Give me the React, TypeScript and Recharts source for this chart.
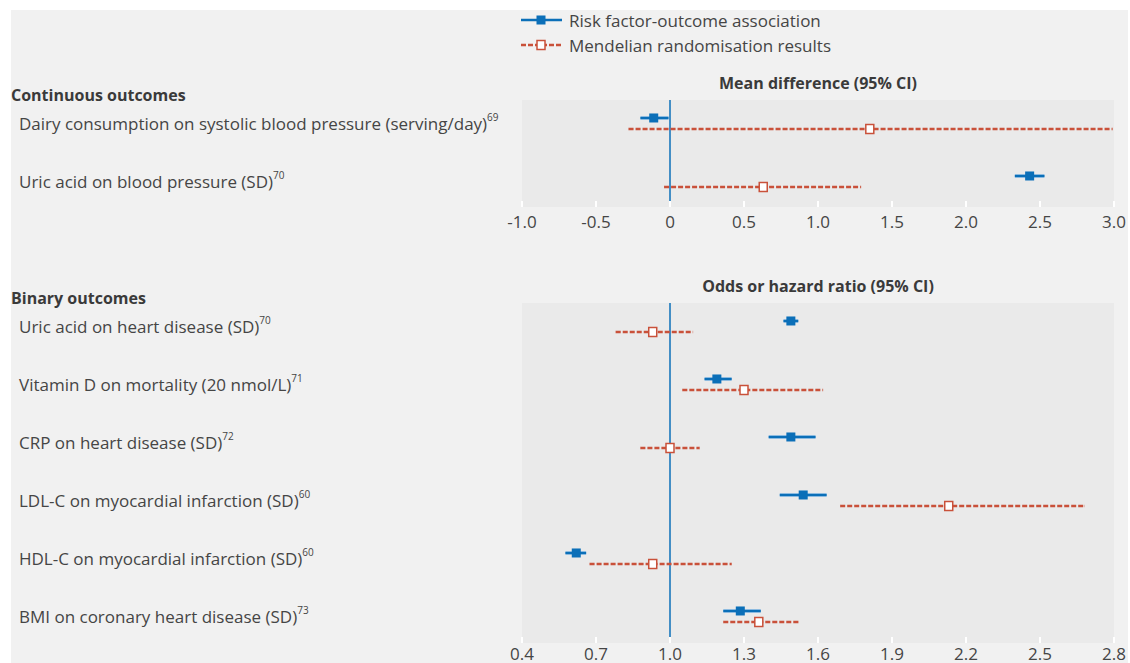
import React from 'react';
import { ScatterChart, Scatter, XAxis, YAxis, ErrorBar, ReferenceLine, CartesianGrid } from 'recharts';

// ---------- data ----------
const continuousLabels = [
  'Dairy consumption on systolic blood pressure (serving/day)',
  'Uric acid on blood pressure (SD)',
];
const continuousRefs = ['69', '70'];
const continuousObs = [-0.11, 2.43];
const continuousObsLow = [-0.2, 2.33];
const continuousObsHigh = [-0.01, 2.53];
const continuousMr = [1.35, 0.63];
const continuousMrLow = [-0.28, -0.04];
const continuousMrHigh = [2.99, 1.29];
const continuousTicks = [-1, -0.5, 0, 0.5, 1, 1.5, 2, 2.5, 3];

const binaryLabels = [
  'Uric acid on heart disease (SD)',
  'Vitamin D on mortality (20 nmol/L)',
  'CRP on heart disease (SD)',
  'LDL-C on myocardial infarction (SD)',
  'HDL-C on myocardial infarction (SD)',
  'BMI on coronary heart disease (SD)',
];
const binaryRefs = ['70', '71', '72', '60', '60', '73'];
const binaryObs = [1.49, 1.19, 1.49, 1.54, 0.62, 1.285];
const binaryObsLow = [1.46, 1.14, 1.4, 1.445, 0.576, 1.216];
const binaryObsHigh = [1.52, 1.25, 1.59, 1.635, 0.66, 1.368];
const binaryMr = [0.93, 1.3, 1.0, 2.13, 0.93, 1.36];
const binaryMrLow = [0.78, 1.05, 0.88, 1.69, 0.674, 1.216];
const binaryMrHigh = [1.093, 1.62, 1.12, 2.68, 1.25, 1.52];
const binaryTicks = [0.4, 0.7, 1.0, 1.3, 1.6, 1.9, 2.2, 2.5, 2.8];

const legendLabels = ['Risk factor-outcome association', 'Mendelian randomisation results'];
const sectionTitles = ['Continuous outcomes', 'Binary outcomes'];
const panelTitles = ['Mean difference (95% CI)', 'Odds or hazard ratio (95% CI)'];

// ---------- styles ----------
const FONT = "'Open Sans', sans-serif";
const TEXT = '#454545';
const BLUE = '#0b6fb8';
const BLUE_HALO = '#8dbbe0';
const RED = '#c9513a';
const OUTER_BG = '#f1f1f1';
const PLOT_BG = '#eaeaea';
const ROW_PX = 58;
const LABEL_SIZE = 17;

const buildRows = (vals: number[], lows: number[], highs: number[]) =>
  vals.map((v, i) => ({ row: i, value: v, err: [v - lows[i], highs[i] - v] }));

const BlueSquare = (p: any) => (
  <rect x={p.cx - 4.5} y={p.cy - 4.5} width={9} height={9} fill={BLUE} />
);
const RedSquare = (p: any) => (
  <rect x={p.cx - 4} y={p.cy - 4.5} width={8} height={9} fill="#ffffff" stroke={RED} strokeWidth={1.5} />
);

type PanelProps = {
  top: number;
  plotHeight: number;
  axisHeight: number;
  labelOffset: number;
  labels: string[];
  refs: string[];
  obs: number[];
  obsLow: number[];
  obsHigh: number[];
  mr: number[];
  mrLow: number[];
  mrHigh: number[];
  ticks: number[];
  nullValue: number;
  fmt: (v: number) => string;
};

const Panel = (props: PanelProps) => {
  const { top, plotHeight, axisHeight, labelOffset, labels, refs, ticks, nullValue, fmt } = props;
  const span = plotHeight / ROW_PX;
  const obsRows = buildRows(props.obs, props.obsLow, props.obsHigh);
  const mrRows = buildRows(props.mr, props.mrLow, props.mrHigh);
  const marginTop = 10;
  const height = marginTop + plotHeight + axisHeight;

  const LabelTick = (p: any) => {
    const i = p.payload.value;
    return (
      <text x={19} y={p.y} dominantBaseline="central" fill={TEXT} fontSize={LABEL_SIZE} fontFamily={FONT}>
        {labels[i]}
        <tspan dy={-6} fontSize={10}>{refs[i]}</tspan>
      </text>
    );
  };

  const XTick = (p: any) => (
    <g>
      <line x1={p.x} x2={p.x} y1={p.y} y2={p.y - 6} stroke="#ffffff" strokeWidth={2} />
      <text x={p.x} y={p.y + labelOffset} textAnchor="middle" dominantBaseline="central" fill={TEXT} fontSize={LABEL_SIZE} fontFamily={FONT}>
        {fmt(p.payload.value)}
      </text>
    </g>
  );

  return (
    <div style={{ position: 'absolute', left: 0, top: top - marginTop }}>
      <ScatterChart
        width={1130}
        height={height}
        margin={{ top: marginTop, right: 16, bottom: 0, left: 20 }}
      >
        <CartesianGrid fill={PLOT_BG} horizontal={false} vertical={false} />
        <XAxis
          type="number"
          dataKey="value"
          domain={[ticks[0], ticks[ticks.length - 1]]}
          ticks={ticks}
          allowDataOverflow
          axisLine={false}
          tickLine={false}
          tickSize={0}
          tickMargin={0}
          height={axisHeight}
          interval={0}
          tick={<XTick />}
        />
        <YAxis
          yAxisId="label"
          type="number"
          domain={[-0.405, -0.405 + span]}
          ticks={labels.map((_, i) => i)}
          allowDataOverflow
          reversed
          width={502}
          axisLine={false}
          tickLine={false}
          interval={0}
          tick={<LabelTick />}
        />
        <YAxis yAxisId="obs" type="number" dataKey="row" domain={[-0.31, -0.31 + span]} allowDataOverflow reversed hide />
        <YAxis yAxisId="mr" type="number" dataKey="row" domain={[-0.5, -0.5 + span]} allowDataOverflow reversed hide />
        <ReferenceLine x={nullValue} yAxisId="label" stroke={BLUE} strokeWidth={1.5} />
        <Scatter
          name={legendLabels[1]}
          data={mrRows}
          dataKey="value"
          yAxisId="mr"
          isAnimationActive={false}
          shape={<RedSquare />}
        >
          <ErrorBar dataKey="err" direction="x" width={0} stroke={RED} strokeWidth={2.5} strokeDasharray="5 2" />
        </Scatter>
        <Scatter
          name={legendLabels[0]}
          data={obsRows}
          dataKey="value"
          yAxisId="obs"
          isAnimationActive={false}
          shape={<BlueSquare />}
        >
          <ErrorBar dataKey="err" direction="x" width={0} stroke={BLUE_HALO} strokeWidth={4} />
          <ErrorBar dataKey="err" direction="x" width={0} stroke={BLUE} strokeWidth={2} />
        </Scatter>
      </ScatterChart>
    </div>
  );
};

const Legend = () => (
  <svg width={360} height={60} style={{ position: 'absolute', left: 510, top: 0 }}>
    <line x1={11} x2={52} y1={20} y2={20} stroke={BLUE} strokeWidth={2.5} />
    <rect x={26.5} y={15.5} width={9} height={9} fill={BLUE} />
    <text x={59} y={20} dominantBaseline="central" fill={TEXT} fontSize={LABEL_SIZE} fontFamily={FONT}>
      {legendLabels[0]}
    </text>
    <line x1={11} x2={52} y1={45} y2={45} stroke={RED} strokeWidth={2.5} strokeDasharray="5 2" />
    <rect x={27} y={40.5} width={8} height={9} fill="#ffffff" stroke={RED} strokeWidth={1.5} />
    <text x={59} y={45} dominantBaseline="central" fill={TEXT} fontSize={LABEL_SIZE} fontFamily={FONT}>
      {legendLabels[1]}
    </text>
  </svg>
);

const headerStyle = (left: number, centerY: number): React.CSSProperties => ({
  position: 'absolute',
  left,
  top: centerY - 11,
  height: 22,
  lineHeight: '22px',
  fontWeight: 700,
  fontSize: 16,
  color: '#3a3a3a',
  fontFamily: FONT,
  whiteSpace: 'nowrap',
});

const titleStyle = (centerY: number): React.CSSProperties => ({
  position: 'absolute',
  left: 522,
  width: 592,
  textAlign: 'center',
  top: centerY - 11,
  height: 22,
  lineHeight: '22px',
  fontWeight: 700,
  fontSize: 16,
  color: '#3a3a3a',
  fontFamily: FONT,
  whiteSpace: 'nowrap',
});

export default function App() {
  return (
    <div style={{ position: 'absolute', left: 0, top: 0, width: 1130, height: 663, background: '#ffffff', overflow: 'hidden', fontFamily: FONT }}>
      <div style={{ position: 'absolute', left: 11, top: 10, width: 1117, height: 653, background: OUTER_BG }} />
      <Legend />
      <div style={headerStyle(11, 95)}>{sectionTitles[0]}</div>
      <div style={titleStyle(83)}>{panelTitles[0]}</div>
      <Panel
        top={100}
        plotHeight={107}
        axisHeight={30}
        labelOffset={14}
        labels={continuousLabels}
        refs={continuousRefs}
        obs={continuousObs}
        obsLow={continuousObsLow}
        obsHigh={continuousObsHigh}
        mr={continuousMr}
        mrLow={continuousMrLow}
        mrHigh={continuousMrHigh}
        ticks={continuousTicks}
        nullValue={0}
        fmt={(v) => (v === 0 ? '0' : v.toFixed(1))}
      />
      <div style={headerStyle(11, 298)}>{sectionTitles[1]}</div>
      <div style={titleStyle(286)}>{panelTitles[1]}</div>
      <Panel
        top={303}
        plotHeight={340}
        axisHeight={20}
        labelOffset={10}
        labels={binaryLabels}
        refs={binaryRefs}
        obs={binaryObs}
        obsLow={binaryObsLow}
        obsHigh={binaryObsHigh}
        mr={binaryMr}
        mrLow={binaryMrLow}
        mrHigh={binaryMrHigh}
        ticks={binaryTicks}
        nullValue={1}
        fmt={(v) => v.toFixed(1)}
      />
    </div>
  );
}
